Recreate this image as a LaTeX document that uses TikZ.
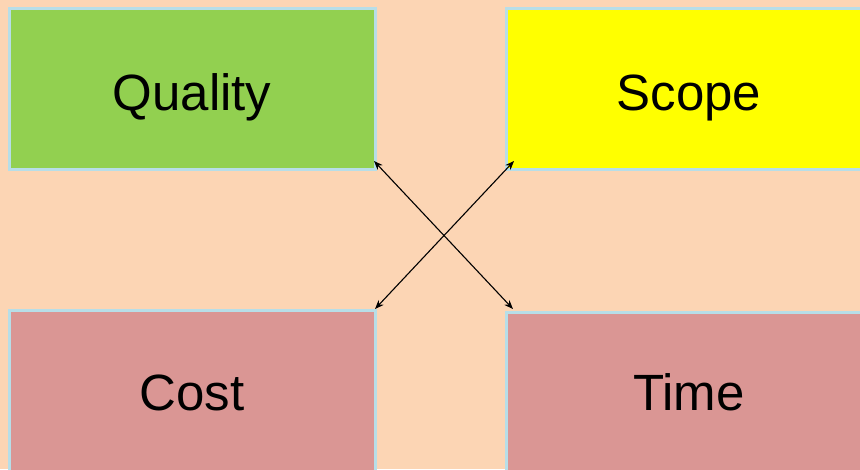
\documentclass[tikz,border=0pt]{standalone}
\usepackage{fontspec}
\setmainfont{Liberation Sans}
\definecolor{peach}{RGB}{252,213,180}
\definecolor{qgreen}{RGB}{146,208,80}
\definecolor{syellow}{RGB}{255,255,0}
\definecolor{crose}{RGB}{218,150,148}
\definecolor{edgeblue}{RGB}{183,222,232}
\usetikzlibrary{positioning, arrows.meta}

\begin{document}
\begin{tikzpicture}[x=1pt, y=1pt, font=\fontsize{51}{60}\selectfont]
		\tikzstyle{corner} = [rectangle, minimum width=366pt, minimum height=161pt, text height=42pt, text depth=2pt, text centered, draw=edgeblue, line width=3pt]
		
		\tikzstyle{arrow2} = [<->, >={Stealth[length=9pt, width=7pt]}, line width=1.1pt]
		%-------------------------------------------------------
		% Background and page size
		\useasboundingbox (0,0) rectangle (860,-469);
		\fill [peach] (0,0) rectangle (860,-469);
		\clip (0,0) rectangle (860,-469);
		
		\node (quality) [corner, fill=qgreen, text depth=-2pt] at (192,-89) {Quality};
		\node (scope) [corner, fill=syellow, text depth=-2pt, right=128pt of quality] {Scope};
		\node (cost) [corner, fill=crose, below=137.5pt of quality] {Cost};
		\node (time) [corner, fill=crose, text depth=6pt, right=128pt of cost, yshift=-2pt] {Time};
		
		\draw [arrow2] ([shift={(-2.5pt,10pt)}]quality.south east) -- ([shift={(8.5pt,1.5pt)}]time.north west);
		\draw [arrow2] ([shift={(9.5pt,10pt)}]scope.south west) -- ([shift={(-1.5pt,-0.5pt)}]cost.north east);
		\end{tikzpicture}
\end{document}
